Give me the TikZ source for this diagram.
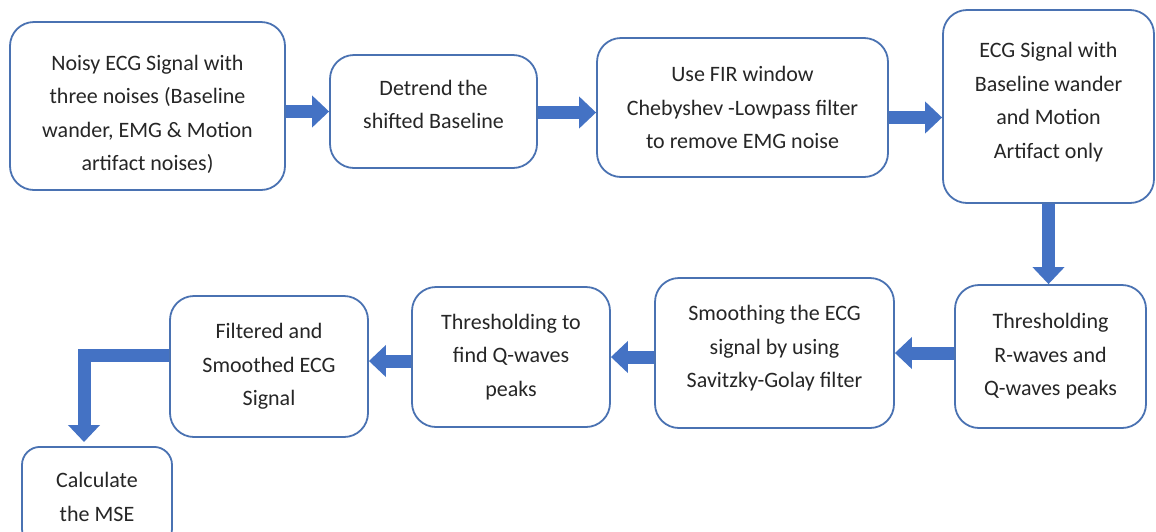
\documentclass[tikz,border=0pt]{standalone}
\usepackage{fontspec}
\setmainfont{Carlito}
\usetikzlibrary{arrows.meta}
\definecolor{boxline}{HTML}{4A72B2}
\definecolor{flowblue}{HTML}{4472C4}
\definecolor{txt}{HTML}{262626}
% struts that move a text block down (taller first line) or up (deeper last line)
\newcommand\tallfirst[1]{\rule{0pt}{#1}}
\newcommand\deeplast[1]{\rule[-#1]{0pt}{0pt}}
\tikzset{
  stage/.style={draw=boxline, line width=1.8pt, rounded corners=24pt, fill=white,
    align=center, text=txt, inner sep=0pt,
    font=\fontsize{22}{33.5}\selectfont},
  flow/.style={draw=flowblue, line width=13pt, line join=miter,
    -{Triangle[length=17pt,width=31pt]}}
}
\begin{document}
\begin{tikzpicture}[x=1pt,y=-1pt]
\clip (0,0) rectangle (1156,531);
\fill[white] (0,0) rectangle (1156,531);

\node[stage, minimum width=275pt, minimum height=168pt] (b1) at (147.5,106)
  {\tallfirst{32pt}Noisy ECG Signal with\\three noises (Baseline\\wander, EMG \& Motion\\artifact noises)};
\node[stage, minimum width=207pt, minimum height=113pt] (b2) at (433.5,111.5)
  {Detrend the\\shifted Baseline\deeplast{14pt}};
\node[stage, minimum width=291pt, minimum height=139pt] (b3) at (742.5,107.5)
  {Use FIR window\\Chebyshev -Lowpass filter\\to remove EMG noise};
\node[stage, minimum width=211pt, minimum height=193pt] (b4) at (1048.5,106.5)
  {ECG Signal with\\Baseline wander\\and Motion\\Artifact only\deeplast{12.5pt}};
\node[stage, minimum width=191pt, minimum height=143pt] (b5) at (1050.5,356.5)
  {Thresholding\\R-waves and\\Q-waves peaks};
\node[stage, minimum width=239pt, minimum height=150pt] (b6) at (774.5,353)
  {Smoothing the ECG\\signal by using\\Savitzky-Golay filter\deeplast{12.5pt}};
\node[stage, minimum width=198pt, minimum height=140pt] (b7) at (511,357)
  {Thresholding to\\find Q-waves\\peaks};
\node[stage, minimum width=198pt, minimum height=141pt] (b8) at (269,366.5)
  {Filtered and\\Smoothed ECG\\Signal};
\node[stage, minimum width=150pt, minimum height=100pt, rounded corners=18pt,
  anchor=north] (b9) at (97,446)
  {Calculate\\the MSE};

\draw[flow] (b1.east |- b2) -- (b2.west);
\draw[flow] ([yshift=-1pt]b2.east) -- ([yshift=-1pt]b2.east -| b3.west);
\draw[flow] ([yshift=-10pt]b3.east) -- ([yshift=-10pt]b3.east -| b4.west);
\draw[flow] (b4.south) -- (b4.south |- b5.north);
\draw[flow] (b5.west |- b6) -- (b6.east);
\draw[flow] (b6.west |- b7) -- (b7.east);
\draw[flow] ([yshift=-4pt]b7.west) -- ([yshift=-4pt]b7.west -| b8.east);
\draw[flow] ([yshift=11pt]b8.west) -| ([xshift=-13pt,yshift=4pt]b9.north);
\end{tikzpicture}
\end{document}
